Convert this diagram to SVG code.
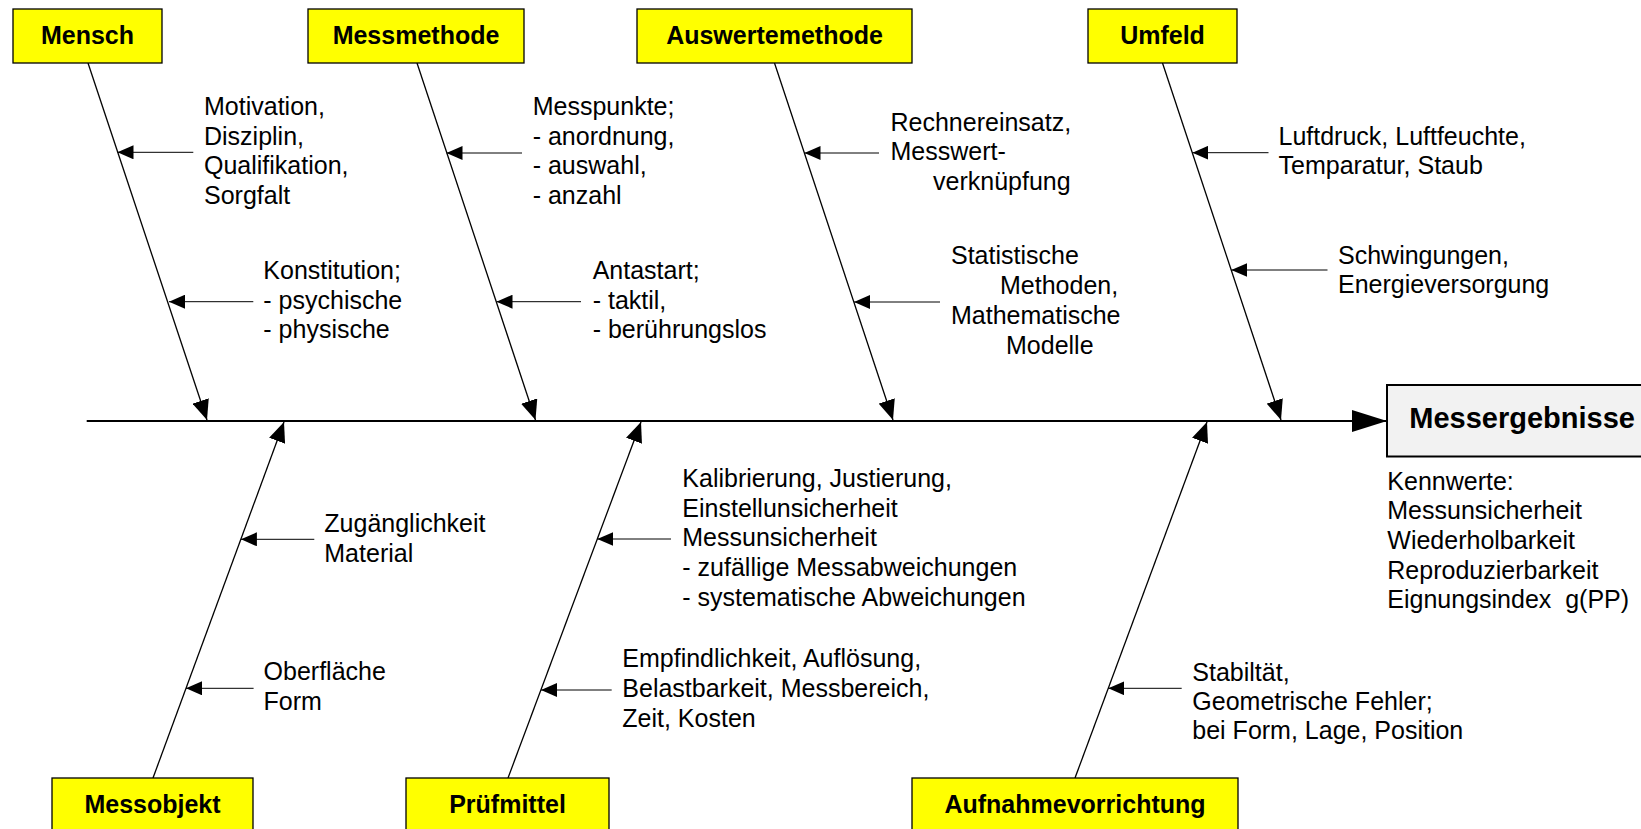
<svg xmlns="http://www.w3.org/2000/svg" width="1641" height="829" viewBox="0 0 1641 829">
<style>
.box{fill:#ffff00;stroke:#000;stroke-width:1.3}
.res{fill:#f2f2f2;stroke:#000;stroke-width:2}
.lbl{font-family:"Liberation Sans",Arial,sans-serif;font-size:25px;font-weight:bold;fill:#000;text-anchor:middle}
.big{font-family:"Liberation Sans",Arial,sans-serif;font-size:29px;font-weight:bold;fill:#000}
.t{font-family:"Liberation Sans",Arial,sans-serif;font-size:25px;fill:#000}
.br{stroke:#000;stroke-width:1.3;fill:none;marker-end:url(#bh)}
.sm{stroke:#000;stroke-width:1;fill:none;marker-end:url(#sh)}
.main{stroke:#000;stroke-width:2.2;fill:none;marker-end:url(#mh)}
</style>
<defs>
<marker id="sh" markerUnits="userSpaceOnUse" markerWidth="16" markerHeight="14" refX="16" refY="7" orient="auto"><path d="M0,0 L16,7 L0,14 z" fill="#000"/></marker>
<marker id="bh" markerUnits="userSpaceOnUse" markerWidth="20" markerHeight="17" refX="20" refY="8.5" orient="auto"><path d="M0,0 L20,8.5 L0,17 z" fill="#000"/></marker>
<marker id="mh" markerUnits="userSpaceOnUse" markerWidth="35" markerHeight="22" refX="35" refY="11" orient="auto"><path d="M0,0 L35,11 L0,22 z" fill="#000"/></marker>
</defs>
<rect width="1641" height="829" fill="#fff"/>
<g id="connectors">
<line class="main" x1="86.7" y1="421" x2="1387" y2="421"/>
<line class="br" x1="88" y1="63" x2="207" y2="420"/>
<line class="br" x1="417" y1="63" x2="535.5" y2="420"/>
<line class="br" x1="774.5" y1="63" x2="893" y2="420"/>
<line class="br" x1="1162.5" y1="63" x2="1281" y2="420"/>
<line class="br" x1="153" y1="778" x2="284" y2="422"/>
<line class="br" x1="508" y1="778" x2="641" y2="422"/>
<line class="br" x1="1075" y1="778" x2="1207" y2="422"/>
<line class="sm" x1="193.3" y1="152.3" x2="117.5" y2="152.3"/>
<line class="sm" x1="253.3" y1="301.7" x2="169" y2="301.7"/>
<line class="sm" x1="522" y1="153" x2="446.5" y2="153"/>
<line class="sm" x1="581" y1="301.7" x2="496.5" y2="301.7"/>
<line class="sm" x1="879" y1="153" x2="804.5" y2="153"/>
<line class="sm" x1="940" y1="302" x2="854" y2="302"/>
<line class="sm" x1="1268.5" y1="152.7" x2="1192.4" y2="152.7"/>
<line class="sm" x1="1327.5" y1="270" x2="1231.3" y2="270"/>
<line class="sm" x1="314.3" y1="539.3" x2="240.9" y2="539.3"/>
<line class="sm" x1="253.6" y1="688.3" x2="186" y2="688.3"/>
<line class="sm" x1="671" y1="539" x2="597.3" y2="539"/>
<line class="sm" x1="611.7" y1="690" x2="541" y2="690"/>
<line class="sm" x1="1181.7" y1="688.3" x2="1108.3" y2="688.3"/>
</g>
<g id="mensch"><rect class="box" x="13" y="9" width="149" height="54"/><text class="lbl" x="87.5" y="43.5">Mensch</text></g>
<g id="messmethode"><rect class="box" x="308" y="9" width="216" height="54"/><text class="lbl" x="416" y="43.5">Messmethode</text></g>
<g id="auswertemethode"><rect class="box" x="637" y="9" width="275" height="54"/><text class="lbl" x="774.5" y="43.5">Auswertemethode</text></g>
<g id="umfeld"><rect class="box" x="1088" y="9" width="149" height="54"/><text class="lbl" x="1162.5" y="43.5">Umfeld</text></g>
<g id="messobjekt"><rect class="box" x="52" y="778" width="201" height="62"/><text class="lbl" x="152.5" y="813">Messobjekt</text></g>
<g id="pruefmittel"><rect class="box" x="406" y="778" width="203" height="62"/><text class="lbl" x="507.5" y="813">Prüfmittel</text></g>
<g id="aufnahmevorrichtung"><rect class="box" x="912" y="778" width="326" height="62"/><text class="lbl" x="1075" y="813">Aufnahmevorrichtung</text></g>
<g id="messergebnisse"><rect class="res" x="1387" y="385" width="270" height="71.5"/><text class="big" x="1409.3" y="428.3">Messergebnisse</text>
<text class="t" xml:space="preserve"><tspan x="1387.3" y="489.5">Kennwerte:</tspan><tspan x="1387.3" y="519.3">Messunsicherheit</tspan><tspan x="1387.3" y="549">Wiederholbarkeit</tspan><tspan x="1387.3" y="578.5">Reproduzierbarkeit</tspan><tspan x="1387.3" y="608.3">Eignungsindex  g(PP)</tspan></text></g>
<g id="labels">
<text class="t"><tspan x="204" y="115">Motivation,</tspan><tspan x="204" y="144.5">Disziplin,</tspan><tspan x="204" y="174.3">Qualifikation,</tspan><tspan x="204" y="204">Sorgfalt</tspan></text>
<text class="t"><tspan x="263.3" y="279">Konstitution;</tspan><tspan x="263.3" y="308.5">- psychische</tspan><tspan x="263.3" y="338.3">- physische</tspan></text>
<text class="t"><tspan x="532.7" y="115">Messpunkte;</tspan><tspan x="532.7" y="144.5">- anordnung,</tspan><tspan x="532.7" y="174.3">- auswahl,</tspan><tspan x="532.7" y="204">- anzahl</tspan></text>
<text class="t"><tspan x="592.7" y="279">Antastart;</tspan><tspan x="592.7" y="308.5">- taktil,</tspan><tspan x="592.7" y="338.3">- berührungslos</tspan></text>
<text class="t"><tspan x="890.5" y="130.5">Rechnereinsatz,</tspan><tspan x="890.5" y="160">Messwert-</tspan><tspan x="933" y="189.5">verknüpfung</tspan></text>
<text class="t"><tspan x="951" y="264">Statistische</tspan><tspan x="1000" y="293.5">Methoden,</tspan><tspan x="951" y="324">Mathematische</tspan><tspan x="1006" y="354">Modelle</tspan></text>
<text class="t"><tspan x="1278.5" y="144.5">Luftdruck, Luftfeuchte,</tspan><tspan x="1278.5" y="174.3">Temparatur, Staub</tspan></text>
<text class="t"><tspan x="1338" y="264">Schwingungen,</tspan><tspan x="1338" y="293.3">Energieversorgung</tspan></text>
<text class="t"><tspan x="324.3" y="531.7">Zugänglichkeit</tspan><tspan x="324.3" y="561.7">Material</tspan></text>
<text class="t"><tspan x="263.6" y="680">Oberfläche</tspan><tspan x="263.6" y="710">Form</tspan></text>
<text class="t"><tspan x="682.3" y="486.7">Kalibrierung, Justierung,</tspan><tspan x="682.3" y="516.5">Einstellunsicherheit</tspan><tspan x="682.3" y="546">Messunsicherheit</tspan><tspan x="682.3" y="575.7">- zufällige Messabweichungen</tspan><tspan x="682.3" y="605.7">- systematische Abweichungen</tspan></text>
<text class="t"><tspan x="622.3" y="666.7">Empfindlichkeit, Auflösung,</tspan><tspan x="622.3" y="696.7">Belastbarkeit, Messbereich,</tspan><tspan x="622.3" y="726.7">Zeit, Kosten</tspan></text>
<text class="t"><tspan x="1192.3" y="681">Stabiltät,</tspan><tspan x="1192.3" y="710">Geometrische Fehler;</tspan><tspan x="1192.3" y="739.3">bei Form, Lage, Position</tspan></text>
</g>
</svg>
